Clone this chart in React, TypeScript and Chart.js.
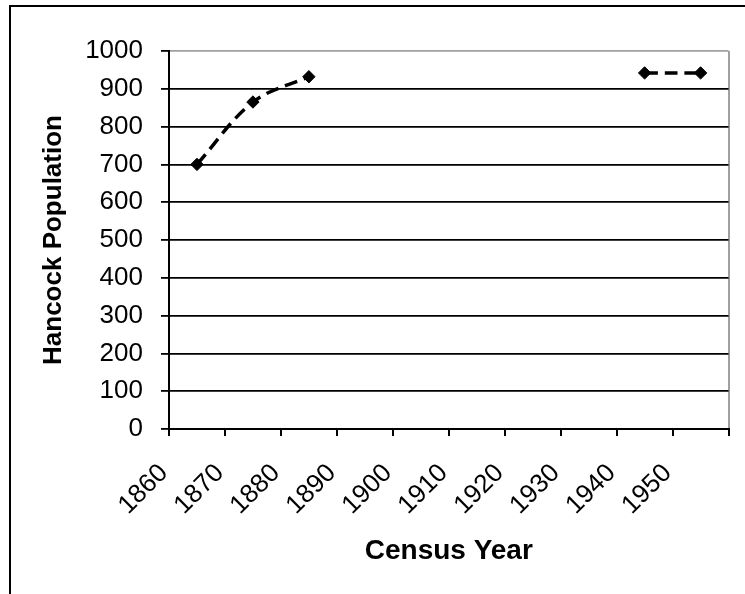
import React, { useEffect, useRef } from "react";
import { Chart, registerables } from "chart.js";

Chart.register(...registerables);

const categories = ["1860", "1870", "1880", "1890", "1900", "1910", "1920", "1930", "1940", "1950"];
const population: (number | null)[] = [700, 865, 932, null, null, null, null, null, 942, 942];
const yMin = 0;
const yMax = 1000;
const yStep = 100;
const xTitle = "Census Year";
const yTitle = "Hancock Population";

const FONT = "'Liberation Sans', Arial, sans-serif";

export default function App() {
  const ref = useRef<HTMLCanvasElement>(null);

  useEffect(() => {
    const chart = new Chart(ref.current as HTMLCanvasElement, {
      type: "line",
      data: {
        labels: categories,
        datasets: [
          {
            data: population,
            borderColor: "#000",
            borderWidth: 3.5,
            borderDash: [13, 7],
            tension: 0.35,
            pointStyle: "rectRot",
            pointRadius: 6.2,
            pointBackgroundColor: "#000",
            pointBorderColor: "#000",
            pointBorderWidth: 1,
            spanGaps: false,
            fill: false,
          },
        ],
      },
      options: {
        responsive: false,
        animation: false,
        layout: { padding: { left: 0, top: 51, right: 6, bottom: 0 } },
        plugins: { legend: { display: false }, tooltip: { enabled: false } },
        scales: {
          x: {
            offset: true,
            grid: {
              offset: true,
              drawOnChartArea: true,
              color: (c: any) => (c.tick ? "rgba(0,0,0,0)" : "#a0a0a0"),
              tickColor: "#000",
              tickLength: 7,
              lineWidth: 2,
            },
            border: { display: true, color: "#000", width: 2 },
            ticks: {
              autoSkip: false,
              minRotation: 45,
              maxRotation: 45,
              labelOffset: -33,
              padding: 22,
              color: "#000",
              font: { family: FONT, size: 26 },
            },
            title: {
              display: true,
              text: xTitle,
              color: "#000",
              font: { family: FONT, size: 28, weight: "bold", lineHeight: 1.2 },
              padding: { top: 0, bottom: 26 },
            },
            afterFit: (s: any) => {
              s.height = 165;
            },
          },
          y: {
            min: yMin,
            max: yMax,
            ticks: {
              stepSize: yStep,
              padding: 18,
              color: "#000",
              font: { family: FONT, size: 26 },
              callback: (v: any) => String(v),
            },
            grid: {
              color: (c: any) => (c.tick && c.tick.value === yMax ? "#a0a0a0" : "#000"),
              tickColor: "#000",
              tickLength: 8,
              lineWidth: 1.8,
            },
            border: { display: true, color: "#000", width: 2 },
            title: {
              display: true,
              text: yTitle,
              color: "#000",
              font: { family: FONT, size: 26, weight: "bold", lineHeight: 1.2 },
              padding: { top: 38, bottom: 0 },
            },
            afterFit: (s: any) => {
              s.width = 169;
            },
          },
        },
      },
    } as any);
    return () => chart.destroy();
  }, []);

  return (
    <div style={{ position: "fixed", left: 0, top: 0, width: 745, height: 594, overflow: "hidden", background: "#fff" }}>
      <canvas ref={ref} width={745} height={594} style={{ position: "absolute", left: 0, top: 0 }} />
      <div
        style={{
          position: "absolute",
          left: 9,
          top: 5,
          width: 736,
          height: 589,
          borderLeft: "2px solid #000",
          borderTop: "2px solid #000",
          boxSizing: "border-box",
          pointerEvents: "none",
        }}
      />
    </div>
  );
}
